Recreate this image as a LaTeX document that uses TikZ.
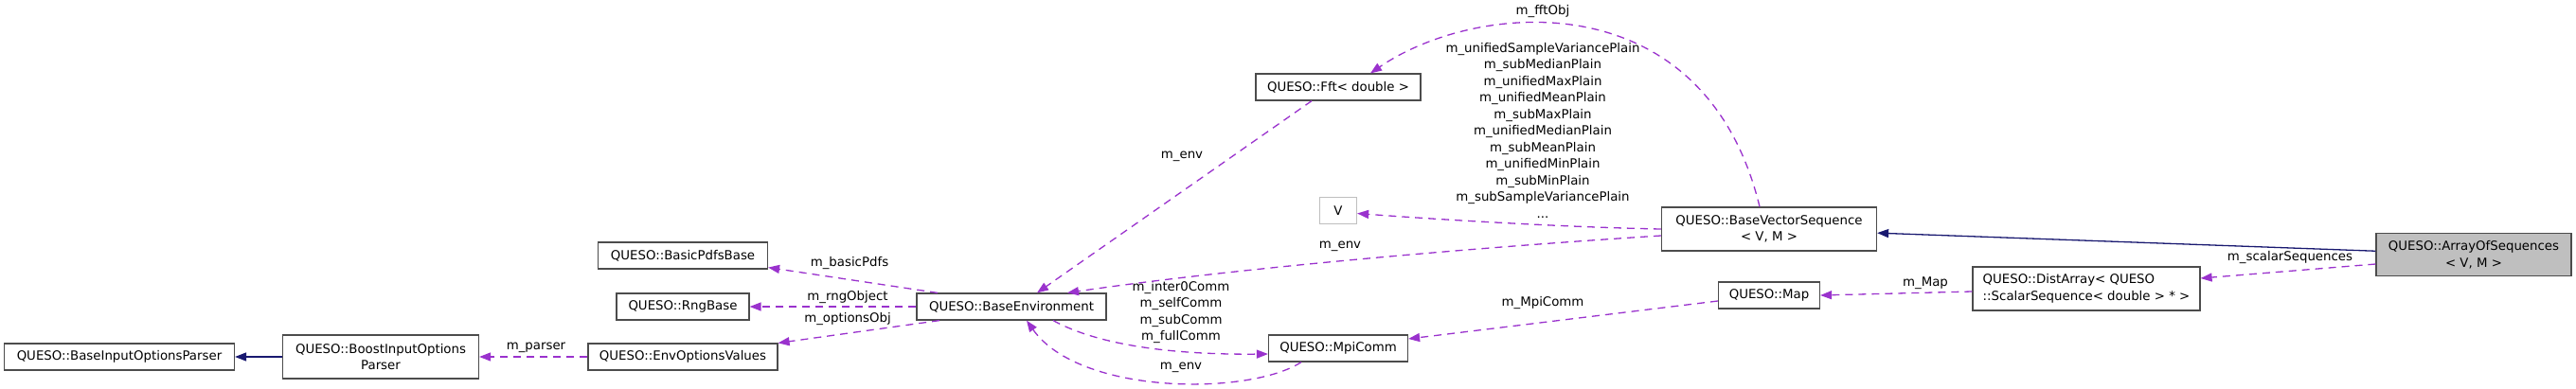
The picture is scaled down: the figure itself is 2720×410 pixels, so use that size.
\documentclass[tikz,border=0pt]{standalone}
\usepackage{fontspec}
\setmainfont{DejaVu Sans}
\usetikzlibrary{arrows.meta}
\definecolor{edgepurple}{HTML}{9A32CD}
\definecolor{edgenavy}{HTML}{191970}
\tikzset{
	cls/.style={draw=black!70, line width=1.2pt, fill=white, inner sep=0pt, minimum height=28pt, font=\fontsize{13.33}{17.5}\selectfont, align=center},
	lbl/.style={inner sep=0pt, font=\fontsize{13.33}{17.5}\selectfont, align=center},
	member/.style={draw=edgepurple, line width=1.3pt, dash pattern=on 8pt off 6pt, -{Triangle[length=12pt,width=9pt]}},
	inherit/.style={draw=edgenavy, line width=1.3pt, -{Triangle[length=12pt,width=9pt]}}
}
\begin{document}
\begin{tikzpicture}[x=1pt,y=-1pt]
				\useasboundingbox (0,0) rectangle (2720,410);
				\node[cls, minimum width=243pt] (bip) at (126,377) {QUESO::BaseInputOptionsParser};
				\node[cls, minimum width=207pt, minimum height=46pt] (boost) at (402,377) {QUESO::BoostInputOptions\\Parser};
				\node[cls, minimum width=200pt] (envopt) at (721,377) {QUESO::EnvOptionsValues};
				\node[cls, minimum width=179pt] (pdfs) at (721,270) {QUESO::BasicPdfsBase};
				\node[cls, minimum width=140pt] (rng) at (721,324) {QUESO::RngBase};
				\node[cls, minimum width=200pt] (benv) at (1068,324) {QUESO::BaseEnvironment};
				\node[cls, minimum width=174pt] (fft) at (1413,92) {QUESO::Fft< double >};
				\node[cls, draw=black!25, minimum width=39pt] (v) at (1413,222.5) {V};
				\node[cls, minimum width=227pt, minimum height=46pt] (bvs) at (1868,242) {QUESO::BaseVectorSequence\\< V, M >};
				\node[cls, minimum width=147pt] (mpi) at (1413,368) {QUESO::MpiComm};
				\node[cls, minimum width=107pt] (map) at (1868,312) {QUESO::Map};
				\node[cls, minimum width=240pt, minimum height=46pt, align=left] (dist) at (2203,305) {QUESO::DistArray< QUESO\\::ScalarSequence< double > * >};
				\node[cls, fill=black!25, minimum width=206pt, minimum height=45pt] (aos) at (2612,269) {QUESO::ArrayOfSequences\\< V, M >};
				
				\node[lbl] (lfft) at (1629,12) {m\_fftObj};
				\node[lbl] (lplain) at (1629,137.5) {m\_unifiedSampleVariancePlain\\m\_subMedianPlain\\m\_unifiedMaxPlain\\m\_unifiedMeanPlain\\m\_subMaxPlain\\m\_unifiedMedianPlain\\m\_subMeanPlain\\m\_unifiedMinPlain\\m\_subMinPlain\\m\_subSampleVariancePlain\\...};
				\node[lbl] (lenvbvs) at (1415,260) {m\_env};
				\node[lbl] (lenvfft) at (1248,165) {m\_env};
				\node[lbl] (lpdfs) at (897,278) {m\_basicPdfs};
				\node[lbl] (lrng) at (895,314) {m\_rngObject};
				\node[lbl] (lopt) at (895,337) {m\_optionsObj};
				\node[lbl] (lparser) at (566,367) {m\_parser};
				\node[lbl] (lcomm) at (1247,330) {m\_inter0Comm\\m\_selfComm\\m\_subComm\\m\_fullComm};
				\node[lbl] (lenvmpi) at (1247,388) {m\_env};
				\node[lbl] (lmpi) at (1629,320) {m\_MpiComm};
				\node[lbl] (lmap) at (2033,299) {m\_Map};
				\node[lbl] (lscalar) at (2418,272) {m\_scalarSequences};
				
				\draw[inherit] (aos) -- (bvs);
				\draw[member] (bvs.west) .. controls (1650,240) and (1520,232) .. ([yshift=-3pt]v.east);
				\draw[member] ([yshift=-7pt]bvs.west) .. controls (1550,262) and (1300,284) .. ([xshift=59pt]benv.north);
				\draw[member] ([xshift=-10pt]bvs.north) .. controls (1800,-20) and (1560,0) .. ([xshift=34pt]fft.north);
				\draw[member] ([xshift=-28pt]fft.south) -- ([xshift=27pt]benv.north);
				\draw[member] ([xshift=-78pt]benv.north) -- ([yshift=2pt]pdfs.south east);
				\draw[member] (benv.west) -- (rng.east);
				\draw[member] ([xshift=-76pt]benv.south) -- (envopt.north east);
				\draw[member] (envopt.west) -- (boost.east);
				\draw[inherit] (boost.west) -- (bip.east);
				\draw[member] ([xshift=44pt]benv.south) .. controls (1160,365) and (1240,375) .. ([yshift=-6pt]mpi.west);
				\draw[member] ([xshift=-39pt]mpi.south) .. controls (1320,418) and (1140,418) .. ([xshift=16pt]benv.south);
				\draw[member] ([yshift=-10pt]aos.west) -- ([yshift=11pt]dist.east);
				\draw[member] ([yshift=-3pt]dist.west) -- (map.east);
				\draw[member] ([yshift=-6pt]map.west) -- ([yshift=10pt]mpi.east);
			\end{tikzpicture}
\end{document}
